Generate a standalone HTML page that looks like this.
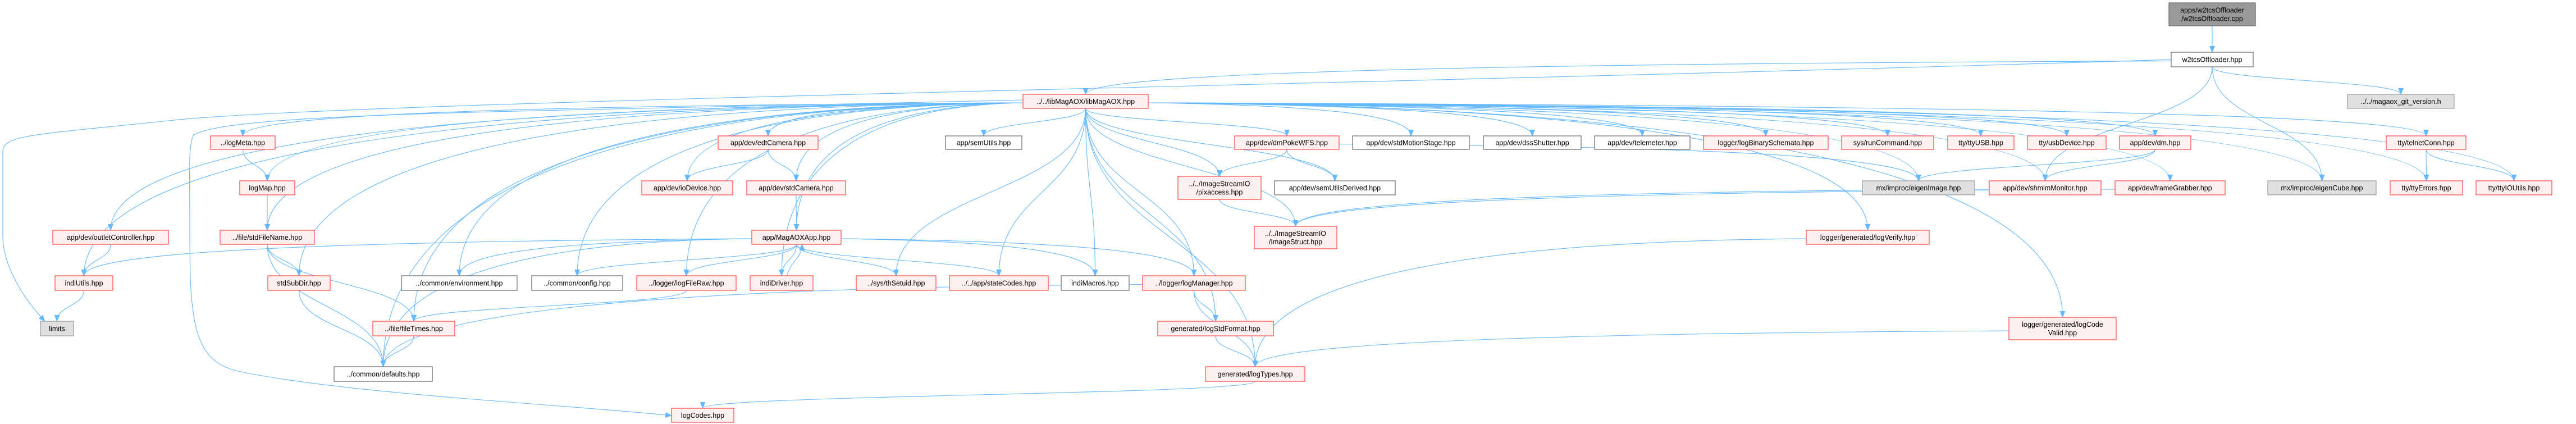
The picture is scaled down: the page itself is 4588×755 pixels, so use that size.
<!DOCTYPE html>
<html><head><meta charset="utf-8">
<style>
html,body{margin:0;padding:0;background:#fff;}
svg{display:block;}
text{font-family:"Liberation Sans","DejaVu Sans",sans-serif;font-size:12.5px;fill:#000;}
.r{fill:#FFF0F0;stroke:#FF4444;stroke-width:1.2;}
.w{fill:#fff;stroke:#666;stroke-width:1.2;}
.g{fill:#E0E0E0;stroke:#999;stroke-width:1.2;}
.d{fill:#999;stroke:#666;stroke-width:1.2;}
</style></head>
<body>
<svg id="s" width="4588" height="755" viewBox="0 0 4588 755" xmlns="http://www.w3.org/2000/svg">
<defs><marker id="a" markerUnits="userSpaceOnUse" markerWidth="12" markerHeight="10" refX="11" refY="5" orient="auto"><path d="M0,0 L12,5 L0,10 z" fill="#63B8FF"/></marker></defs>
<g id="edges" fill="none" stroke="#63B8FF" stroke-width="1.1"></g>
<g id="nodes"></g>
</svg>
<script>
var N={
root:[3863,5,154,41,'d',['apps/w2tcsOffloader','/w2tcsOffloader.cpp']],
w2:[3867,93,146,26,'w',['w2tcsOffloader.hpp']],
lib:[1822,168,223,25,'r',['../../libMagAOX/libMagAOX.hpp']],
git:[4181,168,190,25,'g',['../../magaox_git_version.h']],
logMeta:[375,242,115,24,'r',['../logMeta.hpp']],
edt:[1279,242,178,24,'r',['app/dev/edtCamera.hpp']],
semU:[1684,242,136,24,'w',['app/semUtils.hpp']],
dmPoke:[2199,242,186,24,'r',['app/dev/dmPokeWFS.hpp']],
motion:[2409,242,208,24,'w',['app/dev/stdMotionStage.hpp']],
dss:[2642,242,174,24,'w',['app/dev/dssShutter.hpp']],
tele:[2840,242,170,24,'w',['app/dev/telemeter.hpp']],
bin:[3034,242,222,24,'r',['logger/logBinarySchemata.hpp']],
run:[3280,242,164,24,'r',['sys/runCommand.hpp']],
ttyUSB:[3469,242,118,24,'r',['tty/ttyUSB.hpp']],
usb:[3611,242,140,24,'r',['tty/usbDevice.hpp']],
dm:[3775,242,127,24,'r',['app/dev/dm.hpp']],
telnet:[4250,242,142,24,'r',['tty/telnetConn.hpp']],
logMap:[427,322,98,25,'r',['logMap.hpp']],
io:[1143,322,162,25,'r',['app/dev/ioDevice.hpp']],
stdCam:[1330,322,176,25,'r',['app/dev/stdCamera.hpp']],
pix:[2098,314,148,41,'r',['../../ImageStreamIO','/pixaccess.hpp']],
semD:[2270,322,215,25,'w',['app/dev/semUtilsDerived.hpp']],
eImg:[3317,322,200,25,'g',['mx/improc/eigenImage.hpp']],
shm:[3543,322,199,25,'r',['app/dev/shmimMonitor.hpp']],
fg:[3767,322,196,25,'r',['app/dev/frameGrabber.hpp']],
eCube:[4039,322,193,25,'g',['mx/improc/eigenCube.hpp']],
ttyErr:[4257,322,129,25,'r',['tty/ttyErrors.hpp']],
ttyIO:[4410,322,135,25,'r',['tty/ttyIOUtils.hpp']],
outlet:[94,410,206,25,'r',['app/dev/outletController.hpp']],
sfn:[392,410,168,25,'r',['../file/stdFileName.hpp']],
app:[1339,410,159,25,'r',['app/MagAOXApp.hpp']],
istr:[2234,403,147,40,'r',['../../ImageStreamIO','/ImageStruct.hpp']],
verify:[3217,410,219,25,'r',['logger/generated/logVerify.hpp']],
indiU:[98,491,103,26,'r',['indiUtils.hpp']],
subdir:[477,491,111,26,'r',['stdSubDir.hpp']],
env:[715,491,206,26,'w',['../common/environment.hpp']],
cfg:[947,491,162,26,'w',['../common/config.hpp']],
raw:[1134,491,177,26,'r',['../logger/logFileRaw.hpp']],
indiD:[1336,491,112,26,'r',['indiDriver.hpp']],
thS:[1525,491,142,26,'r',['../sys/thSetuid.hpp']],
state:[1691,491,176,26,'r',['../../app/stateCodes.hpp']],
macros:[1890,491,121,26,'w',['indiMacros.hpp']],
lm:[2035,491,183,26,'r',['../logger/logManager.hpp']],
limits:[72,572,59,26,'g',['limits']],
ft:[664,572,146,26,'r',['../file/fileTimes.hpp']],
lsf:[2062,572,206,26,'r',['generated/logStdFormat.hpp']],
lcv:[3578,565,191,40,'r',['logger/generated/logCode','Valid.hpp']],
defs:[595,653,175,26,'w',['../common/defaults.hpp']],
lt:[2147,653,177,26,'r',['generated/logTypes.hpp']],
codes:[1196,727,111,25,'r',['logCodes.hpp']]
};
var E=[['root','w2'],['w2','lib'],['w2','git'],['w2','eCube'],['w2','shm'],
['logMeta','logMap'],['logMap','sfn'],['sfn','subdir'],['sfn','defs'],['sfn','ft'],['subdir','defs'],['ft','defs'],
['outlet','indiU'],['indiU','limits'],['edt','io'],['edt','stdCam'],['stdCam','app'],
['app','indiU'],['app','env'],['app','cfg'],['app','raw'],['app','indiD'],['indiD','app'],['app','thS'],['app','state'],['app','macros'],['app','lm'],['app','defs'],
['raw','ft'],['lm','defs'],['lm','lsf'],['lm','lt'],['lsf','lt'],['lt','codes'],
['dmPoke','pix'],['dmPoke','semD'],['dmPoke','eImg'],['pix','istr'],['verify','lt'],['lcv','lt'],
['dm','eImg'],['dm','shm'],['shm','istr'],['fg','istr'],['telnet','ttyErr'],['telnet','ttyIO']];
['logMeta','logMap','sfn','subdir','outlet','indiU','defs','ft','env','cfg','raw','edt','io','stdCam','app','indiD','thS','state','macros','lm','lsf','lt','semU','dmPoke','pix','istr','semD','motion','dss','tele','bin','run','ttyUSB','usb','dm','telnet','shm','fg','eCube','ttyErr','ttyIO','verify','lcv','eImg'].forEach(function(t){E.push(['lib',t]);});
var eg=document.getElementById('edges'),ng=document.getElementById('nodes'),NS='http://www.w3.org/2000/svg';
function P(d){var p=document.createElementNS(NS,'path');p.setAttribute('d',d);p.setAttribute('marker-end','url(#a)');eg.appendChild(p);}
E.forEach(function(e){var a=N[e[0]],b=N[e[1]];
var ax=a[0]+a[2]/2,ay=a[1]+a[3],bx=b[0]+b[2]/2,by=b[1];
if(b[1]>a[1]+a[3]+15){
 if(Math.abs(bx-ax)>500&&e[0]!='lt'){ // leave from side
   var sx=bx<ax?a[0]:a[0]+a[2],sy=a[1]+a[3]*0.6;
   P('M'+sx+','+sy+' C'+(sx+(bx-sx)*0.7)+','+(sy+5)+' '+bx+','+(by-(by-sy)*0.6)+' '+bx+','+by);
 } else {var dy=by-ay;P('M'+ax+','+ay+' C'+ax+','+(ay+dy*0.5)+' '+bx+','+(by-dy*0.5)+' '+bx+','+by);}
}else if(a[1]>b[1]+b[3]+15){ // upward
 P('M'+(ax+10)+','+a[1]+' C'+(ax+15)+','+(a[1]-25)+' '+(bx+10)+','+(b[1]+b[3]+25)+' '+(bx+10)+','+(b[1]+b[3]));
}else{
 var sx2,ex;if(bx<ax){sx2=a[0];ex=b[0]+b[2];}else{sx2=a[0]+a[2];ex=b[0];}
 var sy2=a[1]+a[3]/2,ey=b[1]+b[3]/2;
 P('M'+sx2+','+sy2+' C'+(sx2+(ex-sx2)*0.4)+','+sy2+' '+(sx2+(ex-sx2)*0.6)+','+ey+' '+ex+','+ey);
}});
P('M1822,178 C900,200 420,200 345,240 C335,260 338,300 338,400 C338,560 340,640 420,660 C600,700 1000,720 1196,740');
P('M3867,106 C2500,150 600,180 300,215 C60,240 5,240 5,270 L5,420 C5,480 50,540 80,572');
var y0;
for(var k in N){var n=N[k];var r=document.createElementNS(NS,'rect');
r.setAttribute('x',n[0]);r.setAttribute('y',n[1]);r.setAttribute('width',n[2]);r.setAttribute('height',n[3]);r.setAttribute('class',n[4]);ng.appendChild(r);
var L=n[5];for(var i=0;i<L.length;i++){var t=document.createElementNS(NS,'text');
var cy=n[1]+n[3]/2+(i-(L.length-1)/2)*15+4.5;t.setAttribute('x',n[0]+n[2]/2);t.setAttribute('y',cy);t.setAttribute('text-anchor','middle');
t.textContent=L[i];ng.appendChild(t);}}
</script>
</body></html>
